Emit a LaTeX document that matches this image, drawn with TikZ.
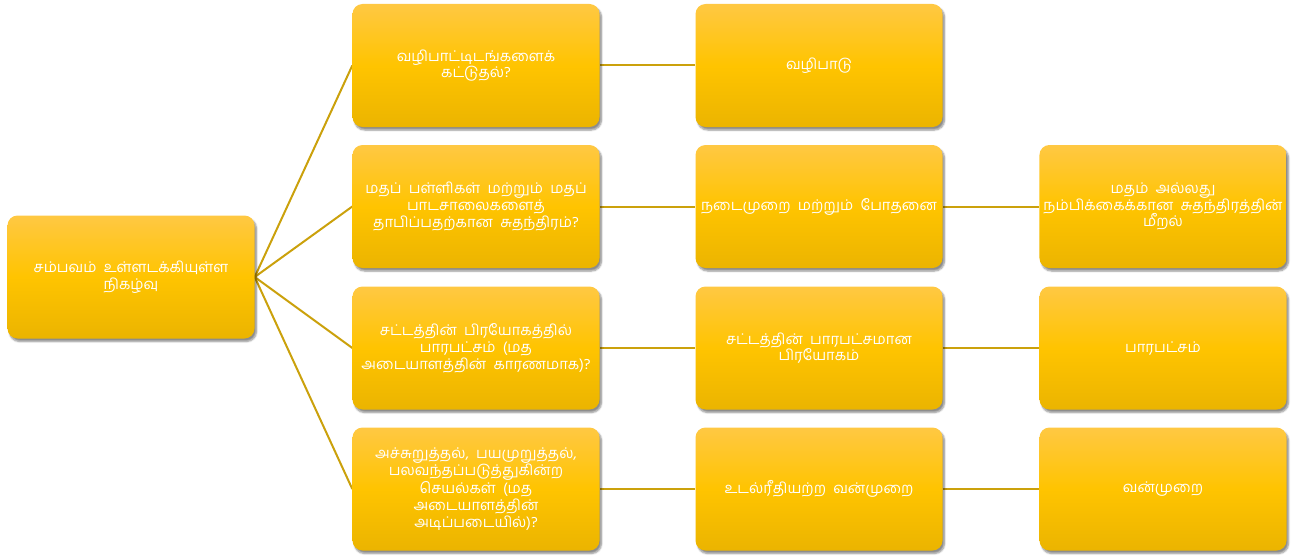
\documentclass[tikz,border=0pt]{standalone}
\usepackage{fontspec}
\newfontfamily\ta[Script=Tamil,WordSpace=2]{Hind Madurai}
\usetikzlibrary{shadows.blur,backgrounds}
\definecolor{boxtop}{HTML}{FFC843}
\definecolor{boxmid}{HTML}{FFC400}
\definecolor{boxbot}{HTML}{EBB400}
\definecolor{link}{HTML}{CBA10C}
\tikzset{
  tbox/.style={rounded corners=10pt, minimum width=247pt, minimum height=123pt,
    top color=boxtop, bottom color=boxbot, middle color=boxmid,
    blur shadow={shadow xshift=2pt, shadow yshift=-3pt, shadow blur steps=6, shadow opacity=45},
    text=white, align=center, inner sep=4pt,
    font=\ta\fontsize{14.8}{16.8}\selectfont},
  linkline/.style={draw=link, line width=2pt}
}
\begin{document}
\begin{tikzpicture}[x=1pt,y=-1pt]
\useasboundingbox (0,0) rectangle (1297,559);
\node[tbox] (root) at (131,277) {சம்பவம் உள்ளடக்கியுள்ள\\நிகழ்வு};
\node[tbox] (a1) at (476,65.5) {வழிபாட்டிடங்களைக்\\கட்டுதல்?};
\node[tbox] (a2) at (476,206.5) {மதப் பள்ளிகள் மற்றும் மதப்\\பாடசாலைகளைத்\\தாபிப்பதற்கான சுதந்திரம்?};
\node[tbox] (a3) at (476,348) {சட்டத்தின் பிரயோகத்தில்\\பாரபட்சம் (மத\\அடையாளத்தின் காரணமாக)?};
\node[tbox] (a4) at (476,489) {அச்சுறுத்தல், பயமுறுத்தல்,\\பலவந்தப்படுத்துகின்ற\\செயல்கள் (மத\\அடையாளத்தின்\\அடிப்படையில்)?};
\node[tbox] (b1) at (819,65.5) {வழிபாடு};
\node[tbox] (b2) at (819,206.5) {நடைமுறை மற்றும் போதனை};
\node[tbox] (b3) at (819,348) {சட்டத்தின் பாரபட்சமான\\பிரயோகம்};
\node[tbox] (b4) at (819,489) {உடல்ரீதியற்ற வன்முறை};
\node[tbox] (c2) at (1163,206.5) {மதம் அல்லது\\நம்பிக்கைக்கான சுதந்திரத்தின்\\மீறல்};
\node[tbox] (c3) at (1163,348) {பாரபட்சம்};
\node[tbox] (c4) at (1163,489) {வன்முறை};
\begin{scope}[on background layer]
\foreach \n in {a1,a2,a3,a4}{\draw[linkline] (root.east) -- (\n.west);}
\draw[linkline] (a1.east) -- (b1.west);
\draw[linkline] (a2.east) -- (b2.west);
\draw[linkline] (a3.east) -- (b3.west);
\draw[linkline] (a4.east) -- (b4.west);
\draw[linkline] (b2.east) -- (c2.west);
\draw[linkline] (b3.east) -- (c3.west);
\draw[linkline] (b4.east) -- (c4.west);
\end{scope}
\end{tikzpicture}
\end{document}
